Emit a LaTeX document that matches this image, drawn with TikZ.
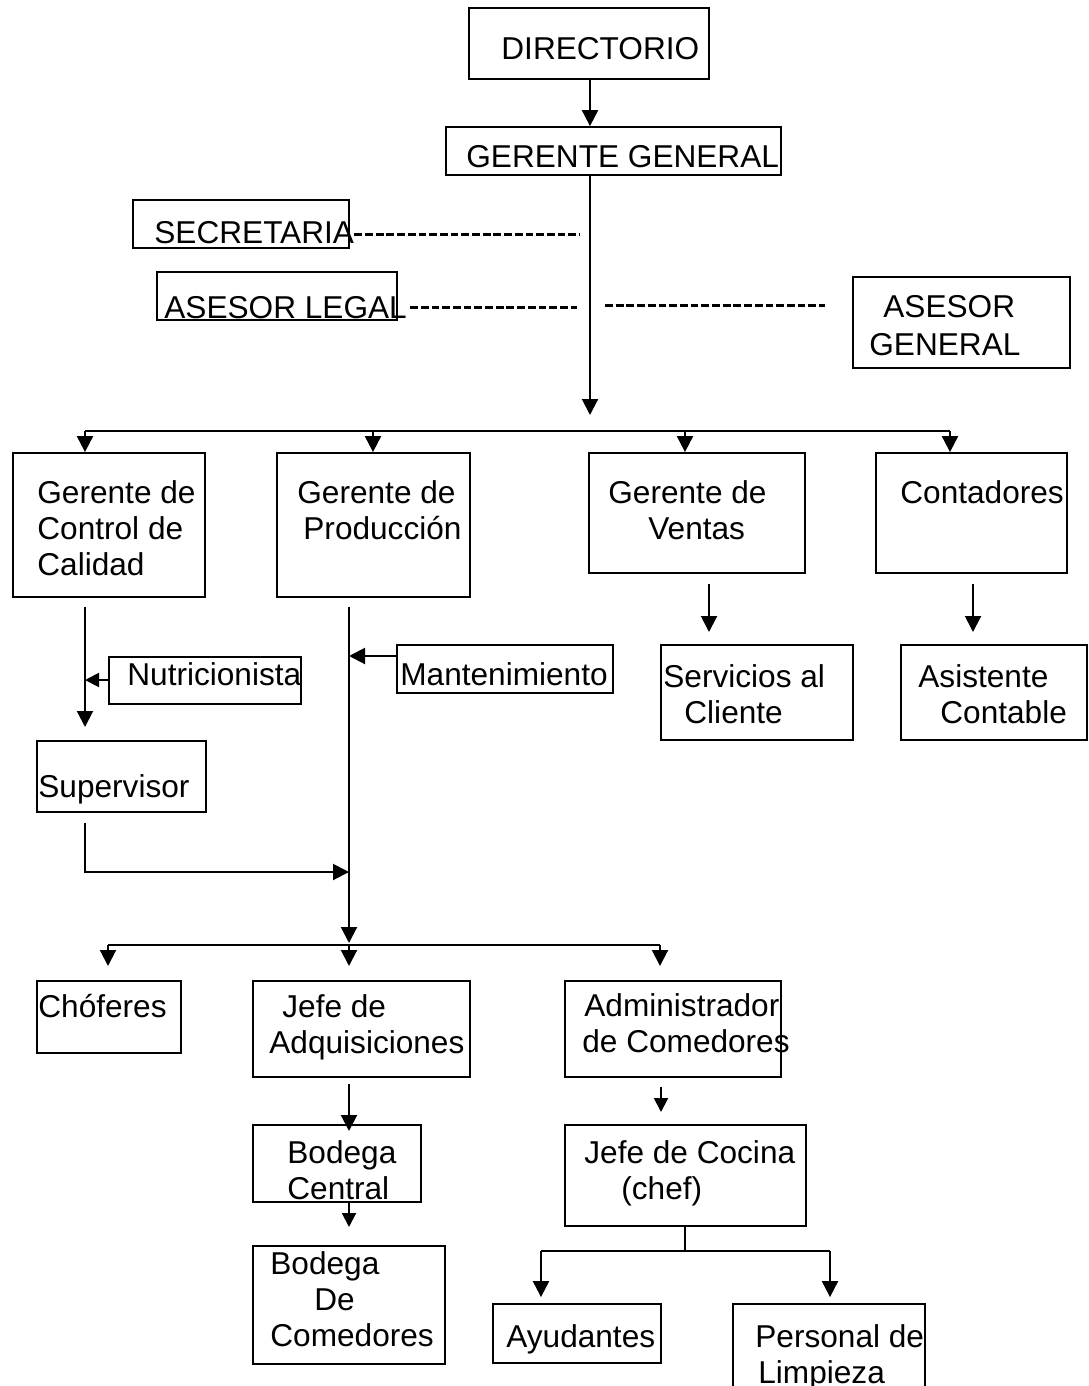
\documentclass[tikz,border=0pt]{standalone}
\usepackage{fontspec}
\setmainfont{Liberation Sans}
\usetikzlibrary{arrows.meta,fit}
\begin{document}
\begin{tikzpicture}[x=0.5pt,y=-0.5pt,
  box/.style={draw, line width=0.9pt, inner sep=0pt, rectangle},
  txt/.style={inner sep=0pt, anchor=base west, font=\fontsize{15.8pt}{18pt}\selectfont},
  link/.style={line width=1pt},
  thin link/.style={line width=0.6pt},
  arr/.style={line width=1pt, -{Triangle[width=8pt,length=8pt]}},
  sarr/.style={line width=1pt, -{Triangle[width=7pt,length=7pt]}},
  hyph/.style={line width=1.5pt, dash pattern=on 3.9pt off 1.45pt},
]
\useasboundingbox (0,0) rectangle (1088,1386);
\clip (0,0) rectangle (1088,1386);

% ---------- boxes ----------
\node[box, fit={(469,8)(709,79)}]      (dir)   {};
\node[box, fit={(446,127)(781,175)}]   (gg)    {};
\node[box, fit={(133,200)(349,248)}]   (sec)   {};
\node[box, fit={(157,272)(397,320)}]   (legal) {};
\node[box, fit={(853,277)(1070,368)}]  (ag)    {};
\node[box, fit={(13,453)(205,597)}]    (qc)    {};
\node[box, fit={(277,453)(470,597)}]   (prod)  {};
\node[box, fit={(589,453)(805,573)}]   (sales) {};
\node[box, fit={(876,453)(1067,573)}]  (acct)  {};
\node[box, fit={(661,645)(853,740)}]   (svc)   {};
\node[box, fit={(901,645)(1087,740)}]  (asst)  {};
\node[box, fit={(109,657)(301,704)}]   (nutri) {};
\node[box, fit={(37,741)(206,812)}]    (sup)   {};
\node[box, fit={(397,645)(613,693)}]   (mant)  {};
\node[box, fit={(37,981)(181,1053)}]   (chof)  {};
\node[box, fit={(253,981)(470,1077)}]  (adq)   {};
\node[box, fit={(253,1125)(421,1202)}] (bcen)  {};
\node[box, fit={(253,1246)(445,1364)}] (bcom)  {};
\node[box, fit={(565,981)(781,1077)}]  (admc)  {};
\node[box, fit={(565,1125)(806,1226)}] (chef)  {};
\node[box, fit={(493,1304)(661,1363)}] (ayu)   {};
\node[box, fit={(733,1304)(925,1400)}] (limp)  {};

% ---------- labels ----------
\node[txt] (dir-t)   at (501,60)   {DIRECTORIO};
\node[txt] (gg-t)    at (466,168)  {GERENTE GENERAL};
\node[txt] (sec-t)   at (154,243)  {SECRETARIA};
\node[txt] (legal-t) at (164,318)  {ASESOR LEGAL};
\node[txt] (ag-t)    at (869,317)  {\vtop{\hbox{\hspace*{7pt}ASESOR}\vskip1pt\hbox{GENERAL}}};
\node[txt] (qc-t)    at (37,503)   {\vtop{\hbox{Gerente de}\hbox{Control de}\hbox{Calidad}}};
\node[txt] (prod-t)  at (297,503)  {\vtop{\hbox{Gerente de}\hbox{\hspace*{3pt}Producción}}};
\node[txt] (sales-t) at (608,503)  {\vtop{\hbox{Gerente de}\hbox{\hspace*{20pt}Ventas}}};
\node[txt] (acct-t)  at (900,503)  {Contadores};
\node[txt] (svc-t)   at (663,687)  {\vtop{\hbox{Servicios al}\hbox{\hspace*{10.5pt}Cliente}}};
\node[txt] (asst-t)  at (918,687)  {\vtop{\hbox{Asistente}\hbox{\hspace*{11pt}Contable}}};
\node[txt] (nutri-t) at (127,685)  {Nutricionista};
\node[txt] (sup-t)   at (38,797)   {Supervisor};
\node[txt] (mant-t)  at (400,685)  {Mantenimiento};
\node[txt] (chof-t)  at (38,1017)  {Chóferes};
\node[txt] (adq-t)   at (269,1017) {\vtop{\hbox{\hspace*{6.5pt}Jefe de}\hbox{Adquisiciones}}};
\node[txt] (bcen-t)  at (287,1163) {\vtop{\hbox{Bodega}\hbox{Central}}};
\node[txt] (bcom-t)  at (270,1274) {\vtop{\hbox{Bodega}\hbox{\hspace*{22pt}De}\hbox{Comedores}}};
\node[txt] (admc-t)  at (582,1016) {\vtop{\hbox{\hspace*{1pt}Administrador}\hbox{de Comedores}}};
\node[txt] (chef-t)  at (584,1163) {\vtop{\hbox{Jefe de Cocina}\hbox{\hspace*{18.5pt}(chef)}}};
\node[txt] (ayu-t)   at (506,1347) {Ayudantes};
\node[txt] (limp-t)  at (755,1347) {\vtop{\hbox{Personal de}\hbox{\hspace*{1.5pt}Limpieza}}};

% ---------- junction points ----------
\coordinate (spine)  at (590,0);
\coordinate (hub)    at (590,415);
\coordinate (sec-d)  at (580,234);
\coordinate (leg-d)  at (577,307);
\coordinate (ag-d0)  at (605,305);
\coordinate (ag-d1)  at (825,305);
\coordinate (bar-w)  at (85,431);
\coordinate (bar-p)  at (373,431);
\coordinate (bar-s)  at (685,431);
\coordinate (bar-e)  at (950,431);
\coordinate (sal-0)  at (709,584);
\coordinate (sal-1)  at (709,632);
\coordinate (acc-0)  at (973,584);
\coordinate (acc-1)  at (973,632);
\coordinate (qc-0)   at (85,607);
\coordinate (qc-1)   at (85,727);
\coordinate (qc-n)   at (85,680);
\coordinate (sup-0)  at (85,823);
\coordinate (sup-c)  at (85,872);
\coordinate (pr-0)   at (349,607);
\coordinate (pr-1)   at (349,943);
\coordinate (pr-s)   at (349,872);
\coordinate (pr-m)   at (349,656);
\coordinate (b2-w)   at (108,945);
\coordinate (b2-m)   at (349,945);
\coordinate (b2-e)   at (660,945);
\coordinate (aq-0)   at (349,1084);
\coordinate (aq-1)   at (349,1131);
\coordinate (bc-1)   at (349,1227);
\coordinate (ad-0)   at (661,1087);
\coordinate (ad-1)   at (661,1112);
\coordinate (ch-j)   at (685,1251);
\coordinate (ch-w)   at (541,1251);
\coordinate (ch-e)   at (830,1251);

% ---------- top of the chart ----------
\draw[arr] (dir.south -| spine) -- (gg.north -| spine);
\draw[arr] (gg.south -| spine) -- (hub);
\draw[hyph] (sec-t.east |- sec-d) -- (sec-d);
\draw[hyph] ([xshift=1.5pt]legal-t.east |- leg-d) -- (leg-d);
\draw[hyph] (ag-d0) -- (ag-d1);

% ---------- first level ----------
\draw[link] (bar-w) -- (bar-e);
\draw[arr] (bar-w) -- (qc.north -| bar-w);
\draw[arr] (bar-p) -- (prod.north -| bar-p);
\draw[arr] (bar-s) -- (sales.north -| bar-s);
\draw[arr] (bar-e) -- (acct.north -| bar-e);

\draw[arr] (sal-0) -- (sal-1);
\draw[arr] (acc-0) -- (acc-1);

% quality control branch
\draw[arr] (qc-0) -- (qc-1);
\draw[sarr] (nutri.west |- qc-n) -- (qc-n);
\draw[arr] (sup-0) -- (sup-c) -- (pr-s);

% production branch
\draw[arr] (pr-0) -- (pr-1);
\draw[arr] (mant.west |- pr-m) -- (pr-m);

% ---------- second level ----------
\draw[link] (b2-w) -- (b2-e);
\draw[arr] (b2-w) -- ++(0,21);
\draw[arr] (b2-m) -- ++(0,21);
\draw[arr] (b2-e) -- ++(0,21);

\draw[arr] (aq-0) -- (aq-1);
\draw[sarr] (bcen.south -| aq-0) -- (bc-1);
\draw[sarr] (ad-0) -- (ad-1);

\draw[thin link] (chef.south -| ch-j) -- (ch-j);
\draw[link] (ch-w) -- (ch-e);
\draw[arr] (ch-w) -- ([yshift=3pt]ayu.north -| ch-w);
\draw[arr] (ch-e) -- ([yshift=3pt]limp.north -| ch-e);
\end{tikzpicture}
\end{document}
